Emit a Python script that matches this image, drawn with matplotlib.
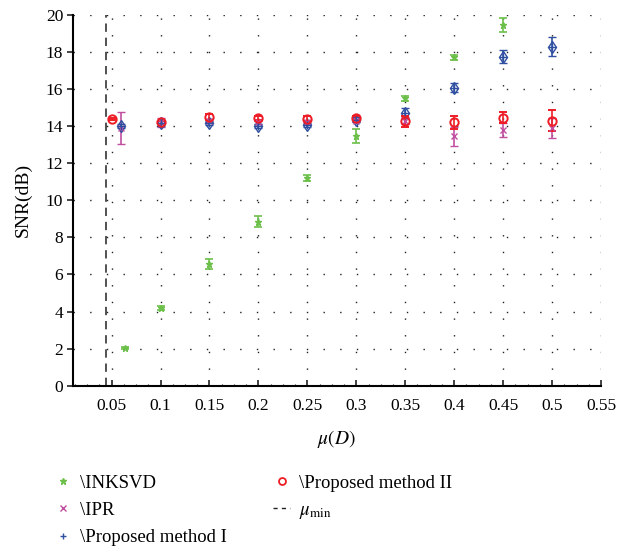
import numpy as np
import matplotlib.pyplot as plt
from matplotlib.lines import Line2D
from matplotlib.ticker import MultipleLocator

plt.rcParams['font.family'] = ['Liberation Serif', 'DejaVu Serif']
plt.rcParams['mathtext.fontset'] = 'stix'

# INKSVD
x_inksvd = [0.064, 0.1, 0.15, 0.2, 0.25, 0.3, 0.35, 0.4, 0.45]
snr_inksvd = [2.03, 4.2, 6.55, 8.85, 11.2, 13.45, 15.5, 17.7, 19.45]
err_inksvd = [0.06, 0.1, 0.27, 0.3, 0.18, 0.37, 0.13, 0.12, 0.37]

# IPR
x_ipr = [0.06, 0.1, 0.15, 0.2, 0.25, 0.3, 0.35, 0.4, 0.45, 0.5]
snr_ipr = [13.9, 14.2, 14.3, 14.2, 14.2, 14.3, 14.3, 13.45, 13.8, 13.9]
err_ipr = [0.87, 0.25, 0.1, 0.1, 0.1, 0.1, 0.2, 0.5, 0.37, 0.52]

# Proposed method I
x_pm1 = [0.06, 0.1, 0.15, 0.2, 0.25, 0.3, 0.35, 0.4, 0.45, 0.5]
snr_pm1 = [14.0, 14.15, 14.18, 14.0, 14.05, 14.35, 14.7, 16.08, 17.75, 18.28]
err_pm1 = [0.12, 0.12, 0.12, 0.12, 0.12, 0.12, 0.25, 0.25, 0.36, 0.5]

# Proposed method II
x_pm2 = [0.05, 0.1, 0.15, 0.2, 0.25, 0.3, 0.35, 0.4, 0.45, 0.5]
snr_pm2 = [14.36, 14.2, 14.5, 14.45, 14.4, 14.45, 14.27, 14.2, 14.45, 14.3]
err_pm2 = [0.05, 0.1, 0.15, 0.12, 0.12, 0.1, 0.3, 0.33, 0.3, 0.55]

mu_min = 0.044

c_green = '#6cc04a'
c_pink = '#c04fa0'
c_blue = '#2f4fa0'
c_red = '#ee1c25'

fig = plt.figure(figsize=(6.34, 5.48), dpi=100)
ax = fig.add_axes([0.115, 0.296, 0.833, 0.677])

ax.errorbar(x_inksvd, snr_inksvd, yerr=err_inksvd, fmt='*', color=c_green,
            markersize=5, capsize=3, elinewidth=1.2, capthick=1.2)
ax.errorbar(x_ipr, snr_ipr, yerr=err_ipr, fmt='x', color=c_pink,
            markersize=4, capsize=3, elinewidth=1.2, capthick=1.2, mew=1)
ax.errorbar(x_pm1, snr_pm1, yerr=err_pm1, fmt='+', color=c_blue,
            markersize=6, capsize=3, elinewidth=1.2, capthick=1.2, mew=1)
ax.plot(x_pm1, snr_pm1, 'd', mfc='none', mec=c_blue, markersize=6, mew=1)
ax.errorbar(x_pm2, snr_pm2, yerr=err_pm2, fmt='o', color=c_red, mfc='none',
            markersize=6, capsize=3, elinewidth=1.2, capthick=1.2, mew=1.4)
ax.axvline(mu_min, color='#333333', linestyle=(0, (5, 3.5)), linewidth=1.2)

ax.set_xlim(0.0105, 0.55)
ax.set_ylim(0, 20)
ax.set_xticks(np.arange(0.05, 0.551, 0.05))
ax.set_xticklabels(['0.05', '0.1', '0.15', '0.2', '0.25', '0.3', '0.35',
                    '0.4', '0.45', '0.5', '0.55'])
ax.xaxis.set_minor_locator(MultipleLocator(0.0125))
ax.set_yticks(np.arange(0, 21, 2))
ax.tick_params(axis='x', which='major', labelsize=12.5, direction='in',
               length=4, width=1.2, pad=9, color='#222222')
ax.tick_params(axis='x', which='minor', direction='in', length=1.5,
               width=0.8, color='#222222')
ax.tick_params(axis='y', labelsize=12.5, direction='out', length=4,
               width=1.2, pad=3, color='#222222')
ax.grid(True, color='#222222', linestyle=(0, (1, 11)), linewidth=1)
ax.spines['top'].set_visible(False)
ax.spines['right'].set_visible(False)
ax.spines['left'].set_linewidth(1.5)
ax.spines['bottom'].set_linewidth(1.5)

ax.set_xlabel(r'$\mu(D)$', fontsize=14, labelpad=10)
ax.set_ylabel('SNR(dB)', fontsize=14, labelpad=10)

handles = [
    Line2D([], [], linestyle='none', marker='*', color=c_green, markersize=5),
    Line2D([], [], linestyle='none', marker='x', color=c_pink, markersize=4),
    Line2D([], [], linestyle='none', marker='+', color=c_blue, markersize=5),
    Line2D([], [], linestyle='none', marker='o', mfc='none', mec=c_red,
           markersize=5, mew=1.3),
    Line2D([], [], linestyle=(0, (3, 3)), color='#222222', linewidth=1),
]
labels = ['\\INKSVD', '\\IPR', '\\Proposed method I',
          '\\Proposed method II', r'$\mu_{\mathrm{min}}$']
fig.legend(handles, labels, loc='upper left', bbox_to_anchor=(0.059, 0.165),
           ncol=2, frameon=False, fontsize=13.5, handlelength=0.9,
           columnspacing=2.5, labelspacing=0.55, handletextpad=0.45)

fig.savefig('out.png', dpi=100)
